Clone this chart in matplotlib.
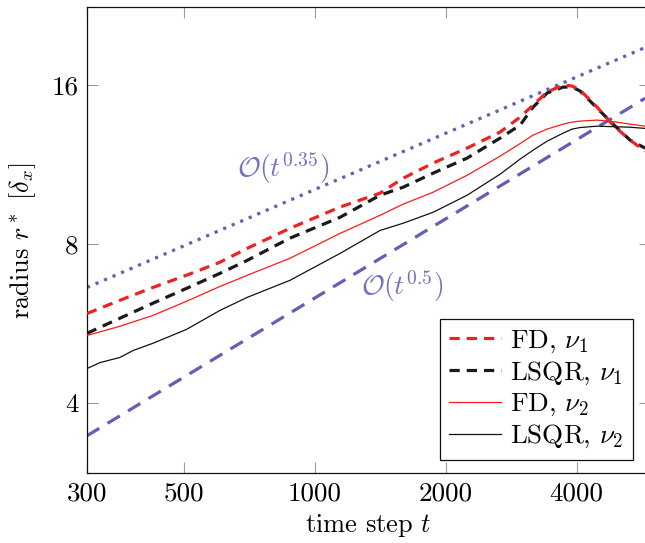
import matplotlib
matplotlib.use("Agg")
import matplotlib.pyplot as plt
from matplotlib.ticker import FixedLocator, FixedFormatter, NullLocator

plt.rcParams['font.family'] = 'serif'
plt.rcParams['font.serif'] = ['cmr10', 'DejaVu Serif']
plt.rcParams['mathtext.fontset'] = 'cm'
plt.rcParams['axes.unicode_minus'] = False

# ---- data ----
t_main = [300, 357, 425, 507, 606, 700, 878, 1144, 1414, 1597, 1872, 2241,
          2668, 2966, 3177, 3421, 3724, 3905, 4074, 4457, 4851, 5307, 5746]
fd_nu1 = [5.90, 6.25, 6.61, 6.97, 7.38, 7.84, 8.56, 9.39, 9.98, 10.65, 11.38, 12.15,
          13.03, 13.91, 14.66, 15.52, 16.0, 15.93, 15.65, 14.53, 13.43, 12.58, 11.99]
lsqr_nu1 = [5.41, 5.78, 6.17, 6.58, 7.03, 7.44, 8.20, 8.98, 9.89, 10.24, 10.89, 11.63,
            12.69, 13.43, 14.53, 15.45, 15.86, 15.86, 15.59, 14.47, 13.49, 12.58, 12.15]
fd_nu2 = [5.36, 5.58, 5.85, 6.22, 6.64, 6.97, 7.51, 8.37, 9.06, 9.51, 10.02, 10.79,
          11.73, 12.39, 12.86, 13.20, 13.49, 13.61, 13.67, 13.73, 13.64, 13.49, 13.37]
t_lsqr2 = [300, 321, 357, 383, 425, 507, 606, 700, 878, 1144, 1414, 1597, 1872, 2241,
           2668, 2966, 3177, 3421, 3724, 3905, 4074, 4457, 4851, 5307, 5746]
lsqr_nu2 = [4.64, 4.76, 4.87, 5.02, 5.18, 5.50, 5.98, 6.33, 6.82, 7.67, 8.48, 8.75, 9.18, 9.89,
            10.84, 11.58, 12.04, 12.52, 12.97, 13.20, 13.29, 13.37, 13.34, 13.31, 13.24]

t_ref = [300, 5746]
ref_035 = [6.61, 18.85]
ref_05 = [3.46, 15.1]

x_ticks = [300, 500, 1000, 2000, 4000]
x_ticklabels = ['300', '500', '1000', '2000', '4000']
y_ticks = [4, 8, 16]
y_ticklabels = ['4', '8', '16']

blue = '#6060b4'
blue_txt = '#7272c4'

fig = plt.figure(figsize=(6.45, 5.43), dpi=100)
ax = fig.add_axes([0.1349, 0.1289, 0.873, 0.8573])
ax.set_xscale('log')
ax.set_yscale('log')

ax.plot(t_ref, ref_05, color=blue, lw=2.3, dashes=(4.5, 3.0), zorder=2)
ax.plot(t_ref, ref_035, color=blue, lw=2.3, dashes=(1.0, 1.9), zorder=2)

l4, = ax.plot(t_lsqr2, lsqr_nu2, color='#111111', lw=0.9, label=r'LSQR, $\nu_2$', zorder=3)
l3, = ax.plot(t_main, fd_nu2, color='#ff1a1a', lw=0.9, label=r'FD, $\nu_2$', zorder=3)
l2, = ax.plot(t_main, lsqr_nu1, color='#1a1a1a', lw=2.3, dashes=(3.2, 2.2), label=r'LSQR, $\nu_1$', zorder=4)
l1, = ax.plot(t_main, fd_nu1, color='#ee2222', lw=2.3, dashes=(3.2, 2.2), label=r'FD, $\nu_1$', zorder=5)

ax.text(846, 11.13, r'$\mathcal{O}(t^{0.35})$', color=blue_txt, fontsize=20,
        ha='center', va='center')
ax.text(1589, 6.64, r'$\mathcal{O}(t^{0.5})$', color=blue_txt, fontsize=20,
        ha='center', va='center')

ax.set_xlim(300, 5900)
ax.set_ylim(2.94, 22.45)

ax.xaxis.set_major_locator(FixedLocator(x_ticks))
ax.xaxis.set_major_formatter(FixedFormatter(x_ticklabels))
ax.xaxis.set_minor_locator(NullLocator())
ax.yaxis.set_major_locator(FixedLocator(y_ticks))
ax.yaxis.set_major_formatter(FixedFormatter(y_ticklabels))
ax.yaxis.set_minor_locator(NullLocator())

ax.tick_params(which='both', direction='in', top=True, right=True, length=8,
               width=0.8, color='#9a9a9a', labelsize=19.5, pad=6)
for s in ax.spines.values():
    s.set_linewidth(0.9)
    s.set_color('#111111')

ax.set_xlabel(r'time step $t$', fontsize=19, labelpad=5)
ax.set_ylabel(r'radius $r^*$ $[\delta_x]$', fontsize=19, labelpad=10)

leg = ax.legend(handles=[l1, l2, l3, l4], loc='lower right',
                bbox_to_anchor=(0.9698, 0.028), borderaxespad=0,
                fontsize=19.5, fancybox=False, framealpha=1, edgecolor='#111111',
                handlelength=1.9, handletextpad=0.35, labelspacing=0.18,
                borderpad=0.35)
leg.get_frame().set_linewidth(0.9)

fig.savefig('out.png', dpi=100)
